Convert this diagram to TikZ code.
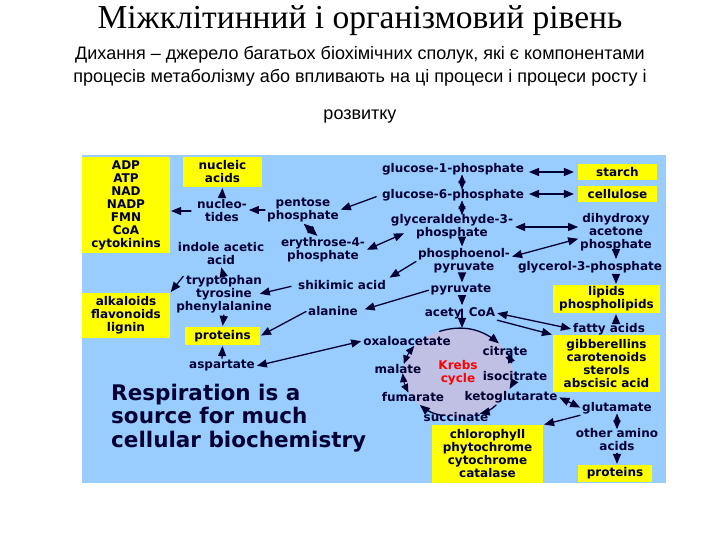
\documentclass[tikz,border=0pt]{standalone}
\usepackage{fontspec}
\setmainfont{DejaVu Sans}
\newfontfamily\titlefont{Liberation Serif}
\newfontfamily\subfont{Liberation Sans}
\usetikzlibrary{arrows}
\usetikzlibrary{shapes.geometric}
\definecolor{navy}{RGB}{0,0,51}
\definecolor{skyback}{RGB}{153,204,255}
\definecolor{boxyellow}{RGB}{255,255,0}
\definecolor{krebsfill}{RGB}{192,192,228}

\begin{document}
\begin{tikzpicture}[line cap=round,line join=round,>=triangle 45,x=1pt,y=1pt,
  lbl/.style={font=\bfseries\fontsize{12}{13}\selectfont,text=navy,align=center,inner sep=1pt},
  ybox/.style={lbl,fill=boxyellow},
  arr/.style={->,line width=1.3pt,draw=navy,shorten >=1pt,shorten <=1pt},
  dbl/.style={arr,<->},
  tiny/.style={line width=1pt,shorten >=-1.5pt,shorten <=-1.5pt}]
\useasboundingbox (0,0) rectangle (720,540);
% heading
\node[font=\titlefont\fontsize{33.5}{38}\selectfont] (title) at (360,519) {Міжклітинний і організмовий рівень};
\node[font=\subfont\fontsize{18}{23}\selectfont,align=center] (sub) at (360,473.5) {Дихання – джерело багатьох біохімічних сполук, які є компонентами\\процесів метаболізму або впливають на ці процеси і процеси росту і};
\node[font=\subfont\fontsize{18}{23}\selectfont] (sub2) at (360,423) {розвитку};
% panel
\fill[skyback] (82,57) rectangle (666,385);
\node[lbl,ellipse,inner sep=0pt,fill=krebsfill,minimum width=110,minimum height=88,text=red] (krebs) at (458,167) {Krebs\\cycle};
\node[font=\bfseries\fontsize{21.5}{23.5}\selectfont,text=navy,align=left,anchor=west,inner sep=0pt] (resp) at (111,122) {Respiration is a\\source for much\\cellular biochemistry};
\coordinate (col) at (462,0);
% centre column
\node[lbl] (glc1) at (453,371) {glucose-1-phosphate};
\node[lbl] (glc6) at (453,345) {glucose-6-phosphate};
\node[lbl] (gap) at (452,313) {glyceraldehyde-3-\\phosphate};
\node[lbl] (pep) at (464,279) {phosphoenol-\\pyruvate};
\node[lbl] (pyr) at (461,250) {pyruvate};
\node[lbl] (acoa) at (460,227) {acety\hspace{7pt}CoA};
% right side
\node[ybox,minimum width=79,minimum height=16] (starch) at (617.5,368) {starch};
\node[ybox,minimum width=79,minimum height=16] (cellulose) at (617.5,346) {cellulose};
\node[lbl] (dhap) at (616,308) {dihydroxy\\acetone\\phosphate};
\node[lbl] (g3p) at (590,273) {glycerol-3-phosphate};
\node[ybox,minimum width=107,minimum height=28] (lipids) at (606.5,241) {lipids\\phospholipids};
\node[lbl] (fatty) at (609,211) {fatty acids};
\node[ybox,minimum width=107,minimum height=57] (gibber) at (606.5,176.5) {gibberellins\\carotenoids\\sterols\\abscisic acid};
\node[lbl] (glutamate) at (617,132) {glutamate};
\node[lbl] (otheraa) at (617,100) {other amino\\acids};
\node[ybox,minimum width=74,minimum height=17] (proteinsR) at (615,66.5) {proteins};
\node[ybox,minimum width=111,minimum height=58] (chloro) at (487.5,86) {chlorophyll\\phytochrome\\cytochrome\\catalase};
% cycle
\node[lbl] (citrate) at (505,189) {citrate};
\node[lbl] (isocit) at (515,164) {isocitrate};
\node[lbl] (keto) at (511,143) {ketoglutarate};
\node[lbl] (succ) at (456,123) {succinate};
\node[lbl] (fum) at (413,143) {fumarate};
\node[lbl] (malate) at (398,171) {malate};
\node[lbl] (oaa) at (407,199) {oxaloacetate};
% left side
\node[ybox,minimum width=88,minimum height=96] (cofac) at (126,335) {ADP\\ATP\\NAD\\NADP\\FMN\\CoA\\cytokinins};
\node[ybox,minimum width=79,minimum height=30] (nucleic) at (222.5,368) {nucleic\\acids};
\node[lbl] (nucleot) at (222,329) {nucleo-\\tides};
\node[lbl] (pentose) at (303,330) {pentose\\phosphate};
\node[lbl] (e4p) at (323,290) {erythrose-4-\\phosphate};
\node[lbl] (iaa) at (221,286) {indole acetic\\acid};
\node[lbl] (aromat) at (224,246) {tryptophan\\tyrosine\\phenylalanine};
\node[ybox,minimum width=88,minimum height=45] (alkal) at (126,224.5) {alkaloids\\flavonoids\\lignin};
\node[lbl] (shik) at (342,255) {shikimic acid};
\node[lbl] (alanine) at (333,229) {alanine};
\node[ybox,minimum width=75,minimum height=18] (proteinsL) at (222.5,204) {proteins};
\node[lbl] (aspartate) at (222,174) {aspartate};
% arrows, centre
\draw[dbl,tiny] (glc1.south -| col) -- (glc6.north -| col);
\draw[dbl,tiny] (glc6.south -| col) -- (gap.north -| col);
\draw[arr] (gap.south -| col) -- (pep.north -| col);
\draw[arr] (pep.south -| col) -- (pyr.north -| col);
\draw[arr] (pyr.south -| col) -- (acoa.north -| col);
\draw[arr,shorten <=3pt] (acoa.north -| col) -- (krebs.north -| col);
% arrows, right
\draw[dbl,shorten >=4pt,shorten <=4pt] (starch.west -| glc1.east) -- (starch.west);
\draw[dbl,shorten >=4pt,shorten <=4pt] (cellulose.west -| glc6.east) -- (cellulose.west);
\draw[dbl] (gap.east) -- (gap.east -| dhap.west);
\draw[dbl] (pep.5) -- (dhap.190);
\draw[arr] (dhap.south) -- (dhap.south |- g3p.north);
\draw[arr] (g3p.south -| dhap.south) -- (lipids.north -| dhap.south);
\draw[arr] (fatty.north -| dhap.south) -- (lipids.south -| dhap.south);
\draw[dbl] (acoa.east) -- (fatty.west);
\draw[arr] (acoa.south east) -- (gibber.north west);
\draw[dbl] (keto.east) -- (glutamate.west);
\draw[arr] (glutamate.south west) -- (chloro.north east);
\draw[dbl,tiny] (glutamate.south) -- (otheraa.north);
\draw[arr] (otheraa.south) -- (otheraa.south |- proteinsR.north);
% Krebs cycle
\draw[arr] (krebs.115) to[bend left=28] (krebs.35);
\draw[dbl,tiny] (krebs.19) -- (krebs.11);
\draw[arr] (krebs.351) to[bend left=10] (krebs.342);
\draw[arr] (krebs.321) to[bend left=15] (krebs.297);
\draw[arr] (krebs.252) to[bend left=15] (krebs.219);
\draw[dbl,tiny] (krebs.200) to[bend left=10] (krebs.182);
\draw[dbl,tiny] (krebs.169) to[bend left=10] (krebs.150);
% arrows, left
\draw[arr] (nucleot.north) -- (nucleic.south);
\draw[arr,shorten <=5pt] (nucleot.west) -- (nucleot.west -| cofac.east);
\draw[arr] (pentose.west) -- (pentose.west -| nucleot.east);
\draw[arr,shorten <=5pt] (glc6.west) -- (pentose.east);
\draw[dbl] (pentose.south) -- (e4p.110);
\draw[dbl] (e4p.east) -- ([xshift=15pt,yshift=-6pt]gap.west);
\draw[arr,shorten >=3pt] (pep.west) -- (shik.north east);
\draw[arr,shorten >=6pt] (pyr.west) -- (alanine.east);
\draw[arr] (alanine.west) -- (proteinsL.east);
\draw[dbl] (oaa.west) -- (aspartate.east);
\draw[arr,shorten <=6pt] (shik.west) -- ([xshift=-14pt]aromat.east);
\draw[arr] ([yshift=-4pt]aromat.north) -- (iaa.south);
\draw[arr,shorten <=3pt] ([xshift=10pt]aromat.north west) -- (alkal.north east);
\draw[arr] (aromat.south) -- (proteinsL.north);
\draw[arr] (aspartate.north) -- (proteinsL.south);
\end{tikzpicture}
\end{document}
